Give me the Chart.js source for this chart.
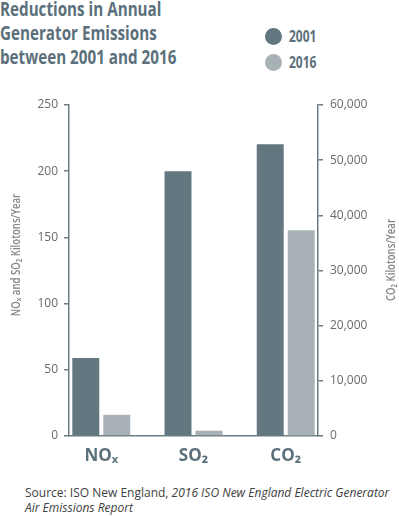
<!DOCTYPE html>
<html>
<head>
<meta charset="utf-8">
<script src="https://cdn.jsdelivr.net/npm/chart.js@4.4.1/dist/chart.umd.min.js"></script>
<style>
  html, body { margin: 0; padding: 0; background: #fff; }
  #wrap { position: relative; width: 399px; height: 516px; overflow: hidden; font-family: "Open Sans", sans-serif; }
  #title { position: absolute; left: 0; top: -3px; font-weight: 700; font-size: 19px; line-height: 24px;
           color: #5b707b; transform: scaleX(0.8); transform-origin: 0 0; white-space: nowrap; }
  #legend { position: absolute; left: 265px; top: 23px; margin: 0; padding: 0; list-style: none; }
  #legend li { display: flex; align-items: center; height: 26px; }
  #legend .dot { width: 17px; height: 17px; border-radius: 50%; margin-right: 7px; }
  #legend .txt { font-weight: 700; font-size: 16px; color: #5b707b; transform: scaleX(0.75); transform-origin: 0 50%; }
  #chartBox { position: absolute; left: 0; top: 88px; width: 399px; height: 392px; }
  #source { position: absolute; left: 25px; top: 485px; font-size: 12px; line-height: 15px; color: #404040; white-space: nowrap; }
</style>
</head>
<body>
<div id="wrap">
  <div id="title">Reductions in Annual<br>Generator Emissions<br>between 2001 and 2016</div>
  <ul id="legend"></ul>
  <div id="chartBox"><canvas id="chart"></canvas></div>
  <div id="source">Source: ISO New England, <i>2016 ISO New England Electric Generator<br>Air Emissions Report</i></div>
</div>
<script>
const categories = ['NOₓ', 'SO₂', 'CO₂']
const years = ['2001', '2016']
// NOx and SO2, kilotons/year (left axis)
const pollutant2001 = [59, 200, null]
const pollutant2016 = [16, 4, null]
// CO2, kilotons/year (right axis)
const co2_2001 = [null, null, 52900]
const co2_2016 = [null, null, 37300]
const leftTicks = [0, 50, 100, 150, 200, 250]
const rightTicks = [0, 10000, 20000, 30000, 40000, 50000, 60000]

const barColors = ['#627780', '#a8b2b6']
const axisColor = '#6b7c83'
const tickColor = '#6a6a6a'

const toPoints = arr => arr.map((v, i) => ({ x: i, y: v }))

function makeSet (year, arr, axis, color) {
  return {
    label: year,
    data: toPoints(arr),
    yAxisID: axis,
    stack: 's' + year,
    backgroundColor: color,
    categoryPercentage: 0.672,
    barPercentage: 0.87
  }
}

const axisTitles = {
  id: 'axisTitles',
  afterDraw (chart) {
    const ctx = chart.ctx
    const draw = (text, x, y) => {
      ctx.save()
      ctx.translate(x, y)
      ctx.rotate(-Math.PI / 2)
      ctx.scale(0.8, 1)
      ctx.font = '600 12px "Open Sans", "Noto Sans", "DejaVu Sans"'
      ctx.fillStyle = '#858585'
      ctx.textAlign = 'center'
      ctx.textBaseline = 'middle'
      ctx.fillText(text, 0, 0)
      ctx.restore()
    }
    draw('NOₓ and SO₂ Kilotons/Year', 17, 255 - 88)
    draw('CO₂ Kilotons/Year', 392, 260 - 88)
  }
}

const chart = new Chart(document.getElementById('chart'), {
  type: 'bar',
  data: {
    datasets: [
      makeSet(years[0], pollutant2001, 'y', barColors[0]),
      makeSet(years[1], pollutant2016, 'y', barColors[1]),
      makeSet(years[0], co2_2001, 'y1', barColors[0]),
      makeSet(years[1], co2_2016, 'y1', barColors[1])
    ]
  },
  options: {
    responsive: true,
    maintainAspectRatio: false,
    animation: false,
    layout: { padding: { top: 17, left: 0, right: 0, bottom: 0 } },
    plugins: {
      legend: { display: false },
      tooltip: { enabled: false }
    },
    scales: {
      x: {
        type: 'linear',
        bounds: 'data',
        offset: false,
        min: -0.35,
        max: 2.35,
        grid: { display: false, drawTicks: false },
        border: { display: true, color: axisColor, width: 1.5 },
        afterBuildTicks (s) { s.ticks = categories.map((c, i) => ({ value: i })) },
        ticks: {
          padding: 10,
          color: '#5b707b',
          font: { family: '"Open Sans", "Noto Sans", "DejaVu Sans"', size: 17, weight: 'bold' },
          callback: v => categories[v] || ''
        },
        afterFit (s) { s.height = 44 }
      },
      y: {
        position: 'left',
        min: 0,
        max: 250,
        grid: { drawOnChartArea: false, drawTicks: true, tickLength: 5, color: axisColor, lineWidth: 1.5 },
        border: { display: true, color: axisColor, width: 1.5 },
        afterBuildTicks (s) { s.ticks = leftTicks.map(v => ({ value: v })) },
        ticks: { padding: 6, color: tickColor, font: { family: '"Open Sans"', size: 12 } },
        afterFit (s) { s.width = 69 }
      },
      y1: {
        position: 'right',
        min: 0,
        max: 60000,
        grid: { drawOnChartArea: false, drawTicks: true, tickLength: 5, color: axisColor, lineWidth: 1.5 },
        border: { display: true, color: axisColor, width: 1.5 },
        afterBuildTicks (s) { s.ticks = rightTicks.map(v => ({ value: v })) },
        ticks: { padding: 7, color: tickColor, font: { family: '"Open Sans"', size: 12 } },
        afterFit (s) { s.width = 81 }
      }
    }
  },
  plugins: [axisTitles]
})

// html legend, one entry per year
const legend = document.getElementById('legend')
years.forEach((y, i) => {
  const li = document.createElement('li')
  li.innerHTML = '<span class="dot" style="background:' + barColors[i] + '"></span><span class="txt">' + y + '</span>'
  legend.appendChild(li)
})
</script>
</body>
</html>
